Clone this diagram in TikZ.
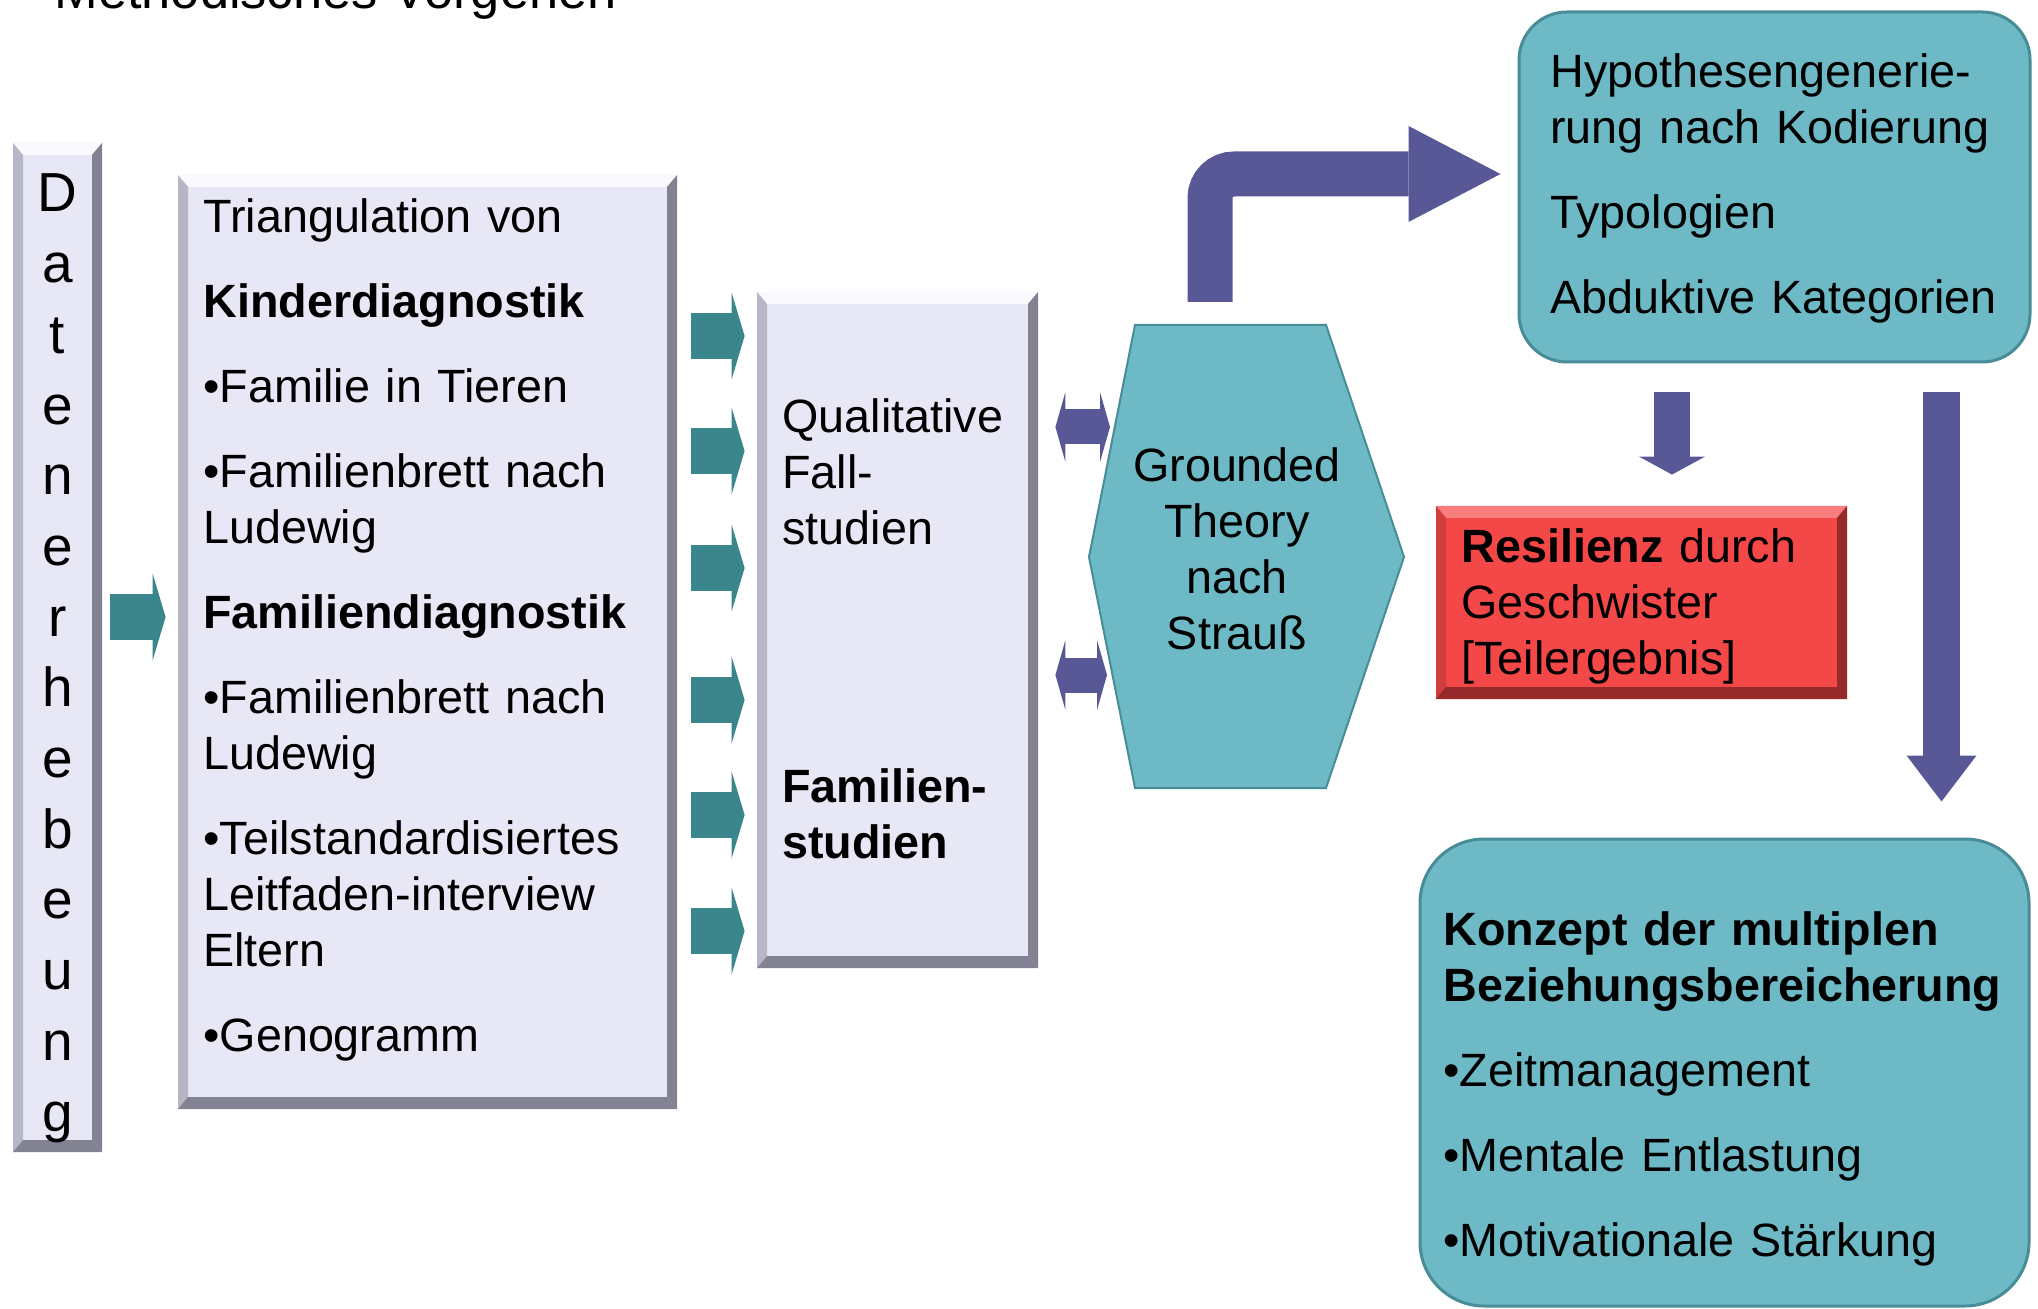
\documentclass[tikz,border=0pt]{standalone}
\usepackage{fontspec}
\setmainfont{Liberation Sans}
\usetikzlibrary{arrows.meta,fit}

\definecolor{clav}{RGB}{231,231,246}
\definecolor{clavlight}{RGB}{249,249,254}
\definecolor{clavmid}{RGB}{182,182,198}
\definecolor{clavdark}{RGB}{130,130,146}
\definecolor{ctealbox}{RGB}{110,185,198}
\definecolor{ctealedge}{RGB}{72,140,152}
\definecolor{ctealarr}{RGB}{58,134,140}
\definecolor{cpurp}{RGB}{88,88,150}
\definecolor{cred}{RGB}{244,72,72}
\definecolor{credlight}{RGB}{250,125,125}
\definecolor{creddark}{RGB}{150,42,42}

\newcommand\txtsize{\fontsize{23.35pt}{28pt}\selectfont}

\tikzset{
  bevel/.style n args={3}{path picture={
    \coordinate (bnw) at (path picture bounding box.north west);
    \coordinate (bne) at (path picture bounding box.north east);
    \coordinate (bsw) at (path picture bounding box.south west);
    \coordinate (bse) at (path picture bounding box.south east);
    \fill[#1] (bnw) -- (bne) -- ([shift={(-5pt,-6pt)}]bne) -- ([shift={(5pt,-6pt)}]bnw) -- cycle;
    \fill[#2] (bnw) -- ([shift={(5pt,-6pt)}]bnw) -- ([shift={(5pt,6pt)}]bsw) -- (bsw) -- cycle;
    \fill[#3] (bne) -- ([shift={(-5pt,-6pt)}]bne) -- ([shift={(-5pt,6pt)}]bse) -- (bse) -- cycle;
    \fill[#3] (bsw) -- (bse) -- ([shift={(-5pt,6pt)}]bse) -- ([shift={(5pt,6pt)}]bsw) -- cycle;
  }},
  lavbox/.style={fill=clav, inner sep=0pt, bevel={clavlight}{clavmid}{clavdark}},
  redbox/.style={fill=cred, inner sep=0pt, bevel={credlight}{cred!85!black}{creddark}},
  tealbox/.style={fill=ctealbox, draw=ctealedge, line width=1.5pt, inner sep=0pt},
  txt/.style={anchor=base west, inner sep=0pt, align=left, font=\txtsize},
  tealarr/.style={draw=ctealarr, line width=23pt,
    -{Triangle[length=6.5pt, width=43.5pt, line width=0pt 0 0]}},
  purpdbl/.style={draw=cpurp, line width=17.5pt,
    {Triangle[length=5pt, width=35pt, line width=0pt 0 0]}-{Triangle[length=5pt, width=35pt, line width=0pt 0 0]}},
}

\begin{document}
\begin{tikzpicture}[x=0.5pt, y=-0.5pt]
  \useasboundingbox (0,0) rectangle (2038,1309);
  \clip (0,0) rectangle (2038,1309);

  \node[txt, font=\fontsize{26.2pt}{30pt}\selectfont] (title) at (54,9) {Methodisches Vorgehen};

  \node[lavbox, fit={(13,143) (102,1152)}] (dat) {};
  \node[lavbox, fit={(178,175) (677,1109)}] (tri) {};
  \node[lavbox, fit={(757,292) (1038,968)}] (qual) {};
  \node[tealbox, rounded corners=24pt, fit={(1519,12) (2030,362)}] (hyp) {};
  \node[redbox, fit={(1436,506) (1847,699)}] (res) {};
  \node[tealbox, rounded corners=32pt, fit={(1420,839) (2029,1306)}] (konz) {};

  \coordinate (hA) at (1135,325);
  \coordinate (hB) at (1326,325);
  \coordinate (hC) at (1404,557);
  \coordinate (hD) at (1326,788);
  \coordinate (hE) at (1135,788);
  \coordinate (hF) at (1089,557);
  \filldraw[fill=ctealbox, draw=ctealedge, line width=1pt] (hA) -- (hB) -- (hC) -- (hD) -- (hE) -- (hF) -- cycle;

  \node[anchor=base, inner sep=0pt, align=center, text width=40pt,
    font=\fontsize{27.5pt}{35.35pt}\selectfont] (dattxt) at (57.5,212)
    {D\\a\\t\\e\\n\\e\\r\\h\\e\\b\\e\\u\\n\\g};

  \node[txt, text width=232pt] (tritxt) at (203,233) {Triangulation von\\[14.5pt]
    \textbf{Kinderdiagnostik}\\[14.5pt]
    •Familie in Tieren\\[14.5pt]
    •Familienbrett nach\\Ludewig\\[14.5pt]
    \textbf{Familiendiagnostik}\\[14.5pt]
    •Familienbrett nach\\Ludewig\\[14.5pt]
    •Teilstandardisiertes\\Leitfaden-interview\\Eltern\\[14.5pt]
    •Genogramm};

  \node[txt, text width=125pt] (qualtxt) at (782,433) {Qualitative\\Fall-\\studien};
  \node[txt, text width=125pt] (famtxt) at (782,802) {\textbf{Familien-}\\\textbf{studien}};

  \node[anchor=base, inner sep=0pt, align=center, text width=150pt, font=\txtsize] (gt) at (1237,482)
    {Grounded\\Theory\\nach\\Strauß};

  \node[txt, text width=240pt] (hyptxt) at (1550,88) {Hypothesengenerie-\\rung nach Kodierung\\[14.5pt]
    Typologien\\[14.5pt]
    Abduktive Kategorien};

  \node[txt, text width=180pt] (restxt) at (1461,563) {\textbf{Resilienz} durch\\Geschwister\\{[}Teilergebnis]};

  \node[txt, text width=290pt] (konztxt) at (1443,945) {\textbf{Konzept der multiplen}\\\textbf{Beziehungsbereicherung}\\[14.5pt]
    •Zeitmanagement\\[14.5pt]
    •Mentale Entlastung\\[14.5pt]
    •Motivationale Stärkung};

  \draw[tealarr, shorten <=4pt, shorten >=6pt] (dat.east |- 0,617) -- (tri.west |- 0,617);
  \foreach \y in {336,451,568,700,815,931}
    \draw[tealarr, shorten <=7pt, shorten >=6pt] (tri.east |- 0,\y) -- (qual.west |- 0,\y);

  \coordinate (hin1) at (1115,427);
  \coordinate (hin2) at (1112,675);
  \draw[purpdbl, shorten <=8.5pt, shorten >=2.5pt] (qual.east |- hin1) -- (hin1);
  \draw[purpdbl, shorten <=8.5pt, shorten >=2.5pt] (qual.east |- hin2) -- (hin2);

  \coordinate (htop) at (1210,325);
  \draw[cpurp, line width=22.5pt, rounded corners=12pt, shorten <=11.5pt, shorten >=8.5pt,
    -{Triangle[length=46pt, width=48pt, line width=0pt 0 0]}] (htop) |- ([yshift=6.5pt]hyp.west);

  \coordinate (s1) at ([xshift=-51.25pt]hyp.south);
  \coordinate (s2) at ([xshift=83.5pt]hyp.south);
  \draw[cpurp, line width=18pt, shorten <=14.5pt, shorten >=15.5pt,
    -{Triangle[length=9pt, width=33pt, line width=0pt 0 0]}] (s1) -- (s1 |- res.north);
  \draw[cpurp, line width=18.5pt, shorten <=14.5pt, shorten >=18pt,
    -{Triangle[length=23pt, width=35pt, line width=0pt 0 0]}] (s2) -- (s2 |- konz.north);
\end{tikzpicture}
\end{document}
